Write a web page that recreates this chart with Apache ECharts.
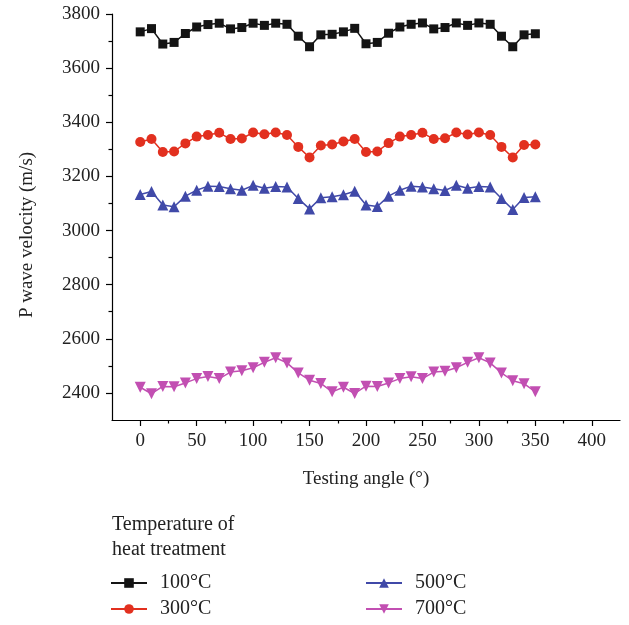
<!DOCTYPE html>
<html>
<head>
<meta charset="utf-8">
<script src="https://cdn.jsdelivr.net/npm/echarts@6/dist/echarts.min.js"></script>
<style>html,body{margin:0;padding:0;background:#fff}#c{width:629px;height:625px}</style>
</head>
<body>
<div id="c"></div>
<script>
var angles = [0,10,20,30,40,50,60,70,80,90,100,110,120,130,140,150,160,170,180,190,200,210,220,230,240,250,260,270,280,290,300,310,320,330,340,350];
var t100 = [3734,3746,3689,3695,3728,3752,3761,3766,3745,3750,3766,3758,3766,3762,3718,3679,3723,3725,3734,3747,3690,3695,3729,3752,3762,3767,3745,3750,3767,3758,3767,3762,3718,3679,3723,3727];
var t300 = [3327,3338,3290,3292,3322,3347,3353,3361,3338,3340,3362,3356,3362,3353,3309,3270,3314,3318,3329,3338,3290,3292,3323,3347,3353,3361,3338,3341,3362,3355,3362,3353,3309,3270,3316,3318];
var t500 = [3133,3144,3094,3088,3127,3149,3164,3163,3154,3149,3167,3156,3163,3161,3118,3080,3121,3125,3132,3145,3094,3089,3127,3149,3164,3161,3154,3148,3167,3156,3163,3161,3118,3078,3122,3125];
var t700 = [2421,2397,2424,2423,2437,2453,2461,2453,2477,2482,2493,2513,2530,2511,2474,2447,2435,2404,2421,2398,2425,2424,2437,2453,2460,2453,2477,2480,2493,2513,2530,2511,2474,2445,2434,2404];
var seriesNames = ['100°C','300°C','500°C','700°C'];
var xTicks = [0,50,100,150,200,250,300,350,400];
var xMinorTicks = [25,75,125,175,225,275,325,375];
var yTicks = [2400,2600,2800,3000,3200,3400,3600,3800];
var yMinorTicks = [2500,2700,2900,3100,3300,3500,3700];

function pairs(vals){ return angles.map(function(a,i){ return [a, vals[i]]; }); }
function plain(v){ return String(v); }

var FONT = 'Liberation Serif';
var colors = ['#141414','#e2301f','#4049a8','#c24fb2'];
var symbols = ['rect','circle','triangle','triangle'];
var sizes = [9,10,11,11];
var rot = [0,0,0,180];
var allVals = [t100,t300,t500,t700];
var legendPos = [[110,573],[110,599],[365,573],[365,599]];

var chart = echarts.init(document.getElementById('c'));
var axisLineStyle = {color:'#000', width:1.2};
chart.setOption({
  animation:false,
  grid:{left:112, top:14, width:508, height:406, containLabel:false},
  xAxis:[{
    type:'value', min:-25, max:425,
    name:'Testing angle (°)', nameLocation:'middle', nameGap:50,
    nameTextStyle:{fontFamily:FONT, fontSize:19, color:'#222'},
    axisLine:{show:true, onZero:false, lineStyle:axisLineStyle},
    axisTick:{show:true, length:6, lineStyle:axisLineStyle, customValues:xTicks},
    axisLabel:{fontFamily:FONT, fontSize:19, color:'#222', margin:12, customValues:xTicks, formatter:plain},
    splitLine:{show:false}
  },{
    type:'value', min:-25, max:425, position:'bottom', gridIndex:0,
    axisLine:{show:false, onZero:false},
    axisTick:{show:true, length:3.5, lineStyle:axisLineStyle, customValues:xMinorTicks},
    axisLabel:{show:false},
    splitLine:{show:false}
  }],
  yAxis:[{
    type:'value', min:2300, max:3800,
    axisLine:{show:true, onZero:false, lineStyle:axisLineStyle},
    axisTick:{show:true, length:6, lineStyle:axisLineStyle, customValues:yTicks},
    axisLabel:{fontFamily:FONT, fontSize:19, color:'#222', margin:12, customValues:yTicks, formatter:plain},
    splitLine:{show:false}
  },{
    type:'value', min:2300, max:3800, position:'left', gridIndex:0,
    axisLine:{show:false, onZero:false},
    axisTick:{show:true, length:3.5, lineStyle:axisLineStyle, customValues:yMinorTicks},
    axisLabel:{show:false},
    splitLine:{show:false}
  }],
  legend: seriesNames.map(function(n,i){
    return {
      data:[n], orient:'horizontal', left:legendPos[i][0], top:legendPos[i][1],
      itemWidth:36, itemHeight:12, padding:0,
      textStyle:{fontFamily:FONT, fontSize:20, color:'#222', padding:[0,0,0,8]}
    };
  }),
  graphic:[{
    type:'text', left:112, top:512,
    style:{text:'Temperature of\nheat treatment', fontFamily:FONT, fontSize:20, lineHeight:25, fill:'#222'}
  },{
    type:'text', x:27, y:235, rotation:Math.PI/2,
    style:{text:'P wave velocity (m/s)', fontFamily:FONT, fontSize:19, fill:'#222', align:'center', verticalAlign:'middle'}
  }],
  series: allVals.map(function(v,i){
    return {
      name:seriesNames[i], type:'line', xAxisIndex:0, yAxisIndex:0,
      data:pairs(v), symbol:symbols[i], symbolSize:sizes[i], symbolRotate:rot[i],
      color:colors[i], lineStyle:{width:1.5, color:colors[i]},
      itemStyle:{color:colors[i]}
    };
  })
});
</script>
</body>
</html>
